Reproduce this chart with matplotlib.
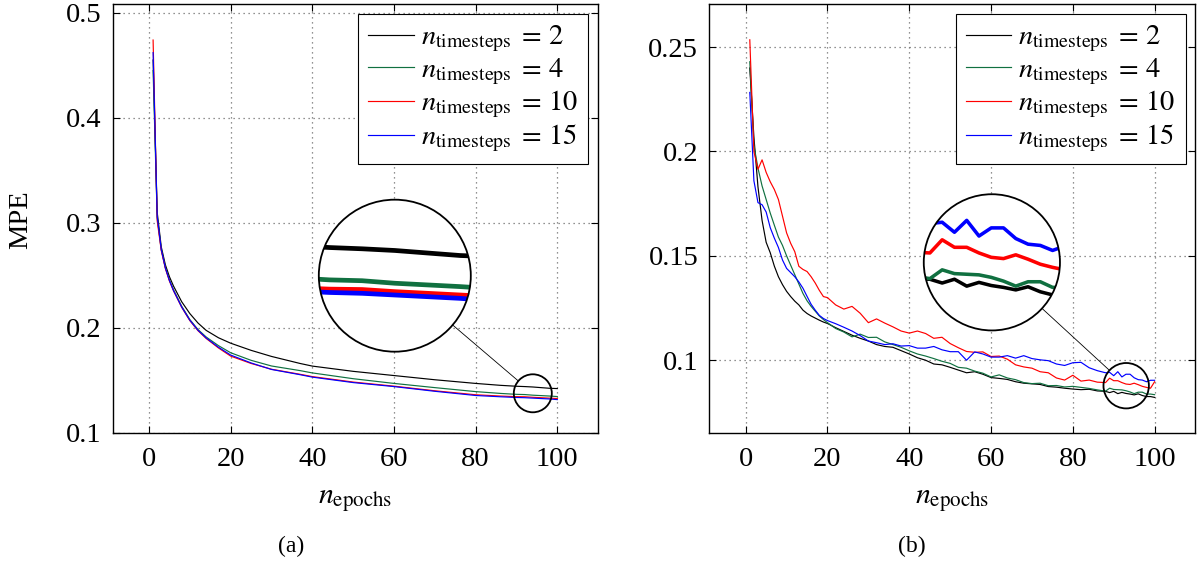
import numpy as np
import matplotlib
matplotlib.use("Agg")
import matplotlib.pyplot as plt
from matplotlib.patches import Circle
from matplotlib.lines import Line2D

plt.rcParams['font.family'] = ['Liberation Serif', 'DejaVu Serif']
plt.rcParams['mathtext.fontset'] = 'stix'

# legend labels and colours (same for both panels)
labels = [r'$n_{\mathrm{timesteps}} \;=\, 2$', r'$n_{\mathrm{timesteps}} \;=\, 4$',
          r'$n_{\mathrm{timesteps}} \;=\, 10$', r'$n_{\mathrm{timesteps}} \;=\, 15$']
colors = ['black', '#107040', '#ff0000', '#0000ff']

# panel (a): smooth training curves
epochs_a = [1, 2, 3, 4, 5, 6, 8, 10, 12, 14, 17, 20, 25, 30, 37, 40, 50, 60, 70, 80,
            86, 90, 92, 94, 96, 98, 100]
mpe_a_2 = [0.455, 0.310, 0.277, 0.260, 0.2486, 0.2397, 0.2248, 0.2135, 0.2045, 0.1975,
           0.1905, 0.1853, 0.1785, 0.1727, 0.1660, 0.1635, 0.1585, 0.1545, 0.1505, 0.1470,
           0.1452, 0.1443, 0.1440, 0.1436, 0.1430, 0.1424, 0.1421]
mpe_a_4 = [0.445, 0.305, 0.2745, 0.2575, 0.2455, 0.2362, 0.2205, 0.2078, 0.1983, 0.1912,
           0.1830, 0.1762, 0.1690, 0.1636, 0.1592, 0.1570, 0.1515, 0.1470, 0.1430, 0.1392,
           0.1375, 0.1366, 0.1364, 0.1358, 0.1354, 0.1350, 0.1345]
mpe_a_10 = [0.474, 0.302, 0.2735, 0.2565, 0.2445, 0.2352, 0.2195, 0.2068, 0.1972, 0.1898,
            0.1808, 0.1730, 0.1660, 0.1605, 0.1557, 0.1535, 0.1483, 0.1444, 0.1400, 0.1362,
            0.1350, 0.1344, 0.1343, 0.1338, 0.1334, 0.1330, 0.1326]
mpe_a_15 = [0.462, 0.306, 0.2745, 0.2570, 0.2450, 0.2355, 0.2198, 0.2072, 0.1976, 0.1903,
            0.1815, 0.1740, 0.1665, 0.1603, 0.1553, 0.1530, 0.1478, 0.1440, 0.1395, 0.1355,
            0.1343, 0.1336, 0.1334, 0.1330, 0.1326, 0.1322, 0.1316]

# panel (b): noisy validation curves
epochs_b = [1, 2, 3, 4, 5, 6, 7, 8, 9, 10, 11, 12, 13, 14, 15, 16, 17, 18, 19, 20,
            22, 24, 26, 28, 30, 32, 34, 36, 38, 40, 42, 44, 46, 48, 50, 52, 54, 56,
            58, 60, 62, 64, 66, 68, 70, 72, 74, 76, 78, 80, 82, 84, 86,
            88, 89, 90, 91, 92, 93, 94, 95, 96, 97, 98, 99, 100]
mpe_b_2 = [0.240, 0.207, 0.183, 0.167, 0.1565, 0.1515, 0.1451, 0.1400, 0.1362, 0.1330,
           0.1305, 0.1283, 0.1265, 0.1240, 0.1224, 0.1212, 0.1202, 0.1192, 0.1183, 0.1176,
           0.1156, 0.1138, 0.1120, 0.1105, 0.1092, 0.1075, 0.1066, 0.1062, 0.1046, 0.1030,
           0.1012, 0.1000, 0.0982, 0.0978, 0.0966, 0.0953, 0.0940, 0.0945, 0.0933, 0.0917,
           0.0913, 0.0908, 0.0897, 0.0890, 0.0887, 0.0884, 0.0874, 0.0871, 0.0866, 0.0862,
           0.0859, 0.0861, 0.0853,
           0.0851, 0.0845, 0.0851, 0.0840, 0.0846, 0.0841, 0.0838, 0.0834, 0.0839, 0.0831,
           0.0826, 0.0826, 0.0822]
mpe_b_4 = [0.243, 0.203, 0.192, 0.1835, 0.177, 0.1705, 0.1647, 0.1590, 0.1550, 0.1500,
           0.1455, 0.1410, 0.1365, 0.1320, 0.1285, 0.1258, 0.1235, 0.1212, 0.1195, 0.1180,
           0.1152, 0.1135, 0.1112, 0.1125, 0.1109, 0.1110, 0.1088, 0.1075, 0.1062, 0.1045,
           0.1030, 0.1020, 0.1008, 0.0995, 0.0985, 0.0966, 0.0962, 0.0948, 0.0938, 0.0920,
           0.0930, 0.0915, 0.0907, 0.0893, 0.0888, 0.0890, 0.0878, 0.0879, 0.0872, 0.0875,
           0.0870, 0.0865, 0.0858,
           0.0852, 0.0866, 0.0860, 0.0859, 0.0858, 0.0854, 0.0848, 0.0840, 0.0847, 0.0847,
           0.0838, 0.0838, 0.0835]
mpe_b_10 = [0.2535, 0.2000, 0.1915, 0.1960, 0.1900, 0.1855, 0.1818, 0.1770, 0.1690, 0.1610,
            0.1560, 0.1520, 0.1450, 0.1435, 0.1425, 0.1400, 0.1370, 0.1335, 0.1305, 0.1300,
            0.1265, 0.1245, 0.1258, 0.1225, 0.1180, 0.1198, 0.1178, 0.1160, 0.1140, 0.1130,
            0.1140, 0.1128, 0.1105, 0.1110, 0.1080, 0.1060, 0.1042, 0.1038, 0.1040, 0.1018,
            0.1020, 0.1005, 0.0978, 0.0968, 0.0962, 0.0945, 0.0940, 0.0915, 0.0905, 0.0928,
            0.0900, 0.0905, 0.0895,
            0.0893, 0.0914, 0.0902, 0.0902, 0.0893, 0.0886, 0.0884, 0.0890, 0.0883, 0.0875,
            0.0870, 0.0866, 0.0897]
mpe_b_15 = [0.2283, 0.1860, 0.1755, 0.1745, 0.1710, 0.1635, 0.1585, 0.1540, 0.1480, 0.1440,
            0.1420, 0.1400, 0.1375, 0.1345, 0.1306, 0.1268, 0.1240, 0.1215, 0.1200, 0.1190,
            0.1175, 0.1158, 0.1140, 0.1118, 0.1092, 0.1084, 0.1075, 0.1079, 0.1068, 0.1070,
            0.1058, 0.1058, 0.1066, 0.1050, 0.1041, 0.1041, 0.1000, 0.1040, 0.1030, 0.1015,
            0.1015, 0.1022, 0.1010, 0.1022, 0.1008, 0.1002, 0.0998, 0.0982, 0.0975, 0.0988,
            0.0990, 0.0964, 0.0950,
            0.0940, 0.0942, 0.0926, 0.0945, 0.0920, 0.0933, 0.0933, 0.0916, 0.0907, 0.0905,
            0.0897, 0.0904, 0.0904]

xticks = [0, 20, 40, 60, 80, 100]
yticks_a = [0.1, 0.2, 0.3, 0.4, 0.5]
yticks_b = [0.1, 0.15, 0.2, 0.25]

FS = 20.5
LW = 0.85

fig = plt.figure(figsize=(12, 5.62), dpi=100)
ax_a = fig.add_axes([0.0939, 0.229, 0.4042, 0.7633])
ax_b = fig.add_axes([0.5911, 0.229, 0.4048, 0.7633])


def style_axes(ax, yticks, ylim):
    ax.set_xlim(-8.9, 109.9)
    ax.set_ylim(*ylim)
    ax.set_xticks(xticks)
    ax.set_yticks(yticks)
    ax.set_yticklabels([f'{t:g}' for t in yticks])
    ax.tick_params(direction='in', length=5, width=0.8, top=True, right=True,
                   labelsize=FS)
    ax.tick_params(axis='x', pad=10)
    ax.tick_params(axis='y', pad=8)
    ax.grid(True, color='#6e6e6e', linestyle=(0, (1, 3)), linewidth=0.9)
    ax.set_axisbelow(True)
    for sp in ax.spines.values():
        sp.set_linewidth(1.0)


def add_spy(ax, series, spot, center, r_small, mag):
    # magnified circular view of a small region, like pgfplots' spy
    dpi = fig.dpi
    sx, sy = ax.transData.transform(spot)
    cx, cy = ax.transData.transform(center)
    px, _ = ax.transData.transform((spot[0] + 1.0, spot[1]))
    _, py = ax.transData.transform((spot[0], spot[1] + 0.01))
    ppx = px - sx
    ppy = (py - sy) / 0.01
    R = r_small * mag
    W, H = fig.bbox.width, fig.bbox.height
    ins = fig.add_axes([(cx - R) / W, (cy - R) / H, 2 * R / W, 2 * R / H])
    ins.set_xlim(spot[0] - r_small / ppx, spot[0] + r_small / ppx)
    ins.set_ylim(spot[1] - r_small / ppy, spot[1] + r_small / ppy)
    ins.axis('off')
    ins.add_patch(Circle((0.5, 0.5), 0.5, transform=ins.transAxes, fc='white',
                         ec='none', zorder=0, clip_on=False))
    clip = Circle((0.5, 0.5), 0.5, transform=ins.transAxes)
    for x, y, c in series:
        ln, = ins.plot(x, y, color=c, lw=LW * mag, zorder=2)
        ln.set_clip_path(clip)
    ins.add_patch(Circle((0.5, 0.5), 0.5, transform=ins.transAxes, fc='none',
                         ec='black', lw=1.3, zorder=3, clip_on=False))
    # small circle on the main axes
    fig.add_artist(Circle((sx / dpi, sy / dpi), r_small / dpi, transform=fig.dpi_scale_trans,
                          fc='none', ec='black', lw=1.3, zorder=5))
    # connector line
    d = np.array([sx - cx, sy - cy])
    u = d / np.hypot(*d)
    p0 = np.array([cx, cy]) + R * u
    p1 = np.array([sx, sy]) - r_small * u
    fig.add_artist(Line2D([p0[0] / dpi, p1[0] / dpi], [p0[1] / dpi, p1[1] / dpi],
                          transform=fig.dpi_scale_trans, color='black', lw=0.6, zorder=4))


panels = [
    (ax_a, epochs_a, [mpe_a_2, mpe_a_4, mpe_a_10, mpe_a_15], yticks_a, (0.0995, 0.508),
     (94.0, 0.1376), (60.2, 0.2496), 19, 4),
    (ax_b, epochs_b, [mpe_b_2, mpe_b_4, mpe_b_10, mpe_b_15], yticks_b, (0.065, 0.2705),
     (93.05, 0.0878), (60.2, 0.1469), 22.7, 3),
]

for ax, ep, ys, yt, yl, spot, center, r_small, mag in panels:
    for y, c, lab in zip(ys, colors, labels):
        ax.plot(ep, y, color=c, lw=LW, label=lab)
    style_axes(ax, yt, yl)
    leg = ax.legend(loc='upper right', fontsize=FS, fancybox=False, framealpha=1,
                    edgecolor='black', borderaxespad=0.33, handlelength=1.6,
                    handletextpad=0.25, labelspacing=0.08, borderpad=0.35)
    leg.get_frame().set_linewidth(0.8)
    add_spy(ax, [(ep, y, c) for y, c in zip(ys, colors)], spot, center, r_small, mag)

# axis labels and captions
fig.text(21 / 1200, 1 - 220 / 562, 'MPE', rotation=90, ha='center', va='center', fontsize=FS)
fig.text(355 / 1200, 1 - 503 / 562, r'$n_{\mathrm{epochs}}$', ha='center', va='baseline',
         fontsize=FS + 1)
fig.text(952 / 1200, 1 - 503 / 562, r'$n_{\mathrm{epochs}}$', ha='center', va='baseline',
         fontsize=FS + 1)
fig.text(291 / 1200, 1 - 546 / 562, '(a)', ha='center', va='center', fontsize=17)
fig.text(912 / 1200, 1 - 546 / 562, '(b)', ha='center', va='center', fontsize=17)

fig.savefig('out.png', dpi=100)
